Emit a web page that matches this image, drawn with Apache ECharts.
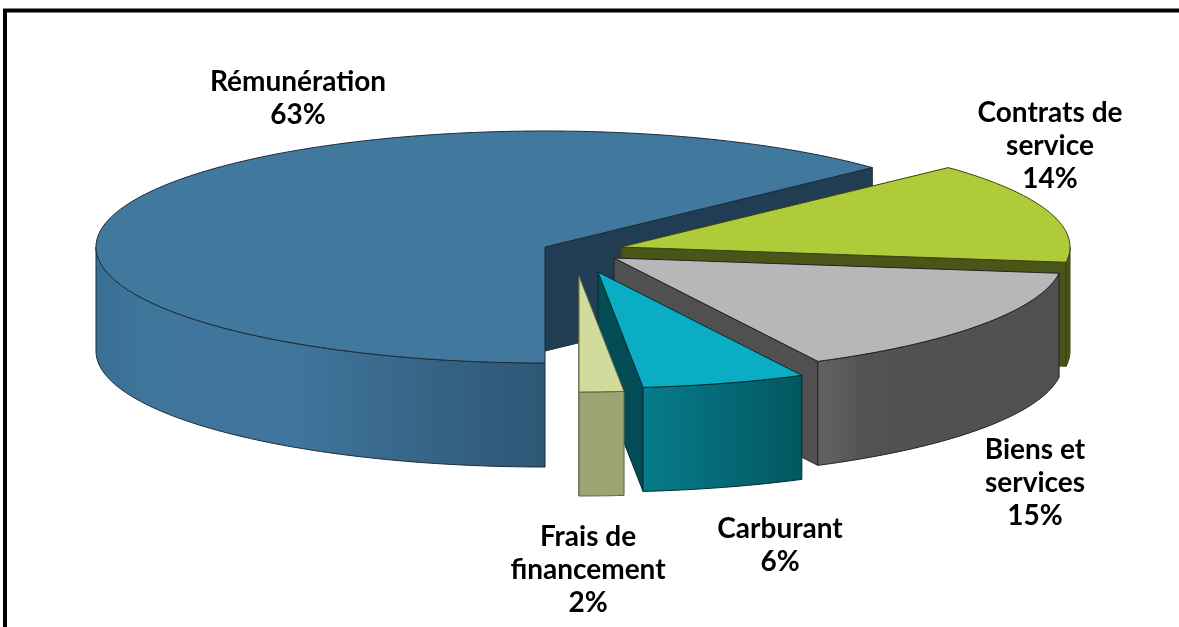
<!DOCTYPE html>
<html>
<head>
<meta charset="utf-8">
<title>Répartition des dépenses</title>
<script src="https://cdn.jsdelivr.net/npm/echarts@6/dist/echarts.min.js"></script>
<style>
  html, body { margin: 0; padding: 0; background: #fff; }
  #main { width: 1179px; height: 627px; }
</style>
</head>
<body>
<div id="main"></div>
<script>
// values, labels show them rounded
const categories = ['Rémunération', 'Contrats de\nservice', 'Biens et\nservices', 'Carburant', 'Frais de\nfinancement'];
const shares = [63.0, 14.1, 15.4, 5.9, 1.6];

// layout of the pie, in the axis units of the hidden grid (same as pixels here)
const apexX = [545, 621, 614, 598, 579];
const apexY = [247, 247, 258, 272, 276];
const labelX = [298, 1050, 1035, 780, 588];
const labelY = [98, 146, 483, 545, 570];
const radiusX = 449;
const radiusY = 116;
const depth = 104;
const startAngle = 270;

const topColors = ['#41789e', '#afcb3a', '#b7b7b9', '#0aadc4', '#d1dc9c'];
const faceColors = ['#203d54', '#4a5518', '#505050', '#024c55', '#9ba472'];
const wallColors = [
  [[0, '#3a6f94'], [0.12, '#3f769c'], [0.45, '#3f759c'], [0.7, '#376688'], [1, '#2f5675']],
  [[0, '#4a5518'], [1, '#4a5518']],
  [[0, '#626464'], [0.2, '#525252'], [1, '#505050']],
  [[0, '#067c8c'], [1, '#03575f']],
  [[0, '#9ba472'], [1, '#9ba472']]
];
const lineColors = ['#1c2c38', '#3a4214', '#222222', '#012e34', '#5f6648'];

function rim(i, deg, drop) {
  const a = deg * Math.PI / 180;
  return [apexX[i] + radiusX * Math.cos(a), apexY[i] - radiusY * Math.sin(a) + drop];
}

// points along the rim, going from a0 to a1
function arc(i, a0, a1, drop) {
  const pts = [];
  const n = Math.max(2, Math.ceil(Math.abs(a0 - a1)));
  for (let k = 0; k <= n; k++) pts.push(rim(i, a0 + (a1 - a0) * k / n, drop));
  return pts;
}

function renderSlice(params, api) {
  const i = api.value(0);
  let before = 0;
  for (let k = 0; k < i; k++) before += shares[k];
  const a0 = startAngle - before * 3.6;
  const a1 = a0 - api.value(1) * 3.6;
  const toPx = p => api.coord(p);
  const line = { stroke: lineColors[i], lineWidth: 1 };
  const children = [];

  // flat cut face on the clockwise end of the slice
  const outer = rim(i, a1, 0);
  const face = [[apexX[i], apexY[i]], outer, [outer[0], outer[1] + depth], [apexX[i], apexY[i] + depth]];
  children.push({
    type: 'polygon',
    shape: { points: face.map(toPx) },
    style: Object.assign({ fill: faceColors[i] }, line)
  });

  // outer wall, only the lower half of the rim faces the viewer
  const base = a0 > 180 ? 180 : -180;
  const from = Math.min(a0, base + 180);
  const to = Math.max(a1, base);
  if (from > to) {
    const wall = arc(i, from, to, 0).concat(arc(i, to, from, depth));
    children.push({
      type: 'polygon',
      shape: { points: wall.map(toPx) },
      style: Object.assign({
        fill: {
          type: 'linear', x: 0, y: 0, x2: 1, y2: 0,
          colorStops: wallColors[i].map(s => ({ offset: s[0], color: s[1] }))
        }
      }, line)
    });
  }

  // top surface
  const top = [[apexX[i], apexY[i]]].concat(arc(i, a0, a1, 0));
  children.push({
    type: 'polygon',
    shape: { points: top.map(toPx) },
    style: Object.assign({ fill: topColors[i] }, line)
  });

  const pos = api.coord([labelX[i], labelY[i]]);
  children.push({
    type: 'text',
    z2: 10,
    style: {
      text: categories[i] + '\n' + Math.round(api.value(1)) + '%',
      x: pos[0],
      y: pos[1],
      align: 'center',
      verticalAlign: 'middle',
      font: 'bold 28px Lato',
      lineHeight: 33,
      fill: '#000'
    }
  });
  return { type: 'group', children: children };
}

const chart = echarts.init(document.getElementById('main'), null, { renderer: 'canvas' });
chart.setOption({
  animation: false,
  backgroundColor: '#fff',
  grid: { left: 0, right: 0, top: 0, bottom: 0 },
  xAxis: { type: 'value', min: 0, max: 1179, show: false },
  yAxis: { type: 'value', min: 0, max: 627, inverse: true, show: false },
  graphic: [{
    type: 'polyline',
    z: 100,
    shape: { points: [[5, 627], [5, 10.5], [1179, 10.5]] },
    style: { stroke: '#000', lineWidth: 4, fill: null }
  }],
  series: [{
    type: 'custom',
    coordinateSystem: 'cartesian2d',
    clip: false,
    renderItem: renderSlice,
    encode: { x: 0, y: 1 },
    data: shares.map((s, i) => [i, s])
  }]
});
</script>
</body>
</html>
